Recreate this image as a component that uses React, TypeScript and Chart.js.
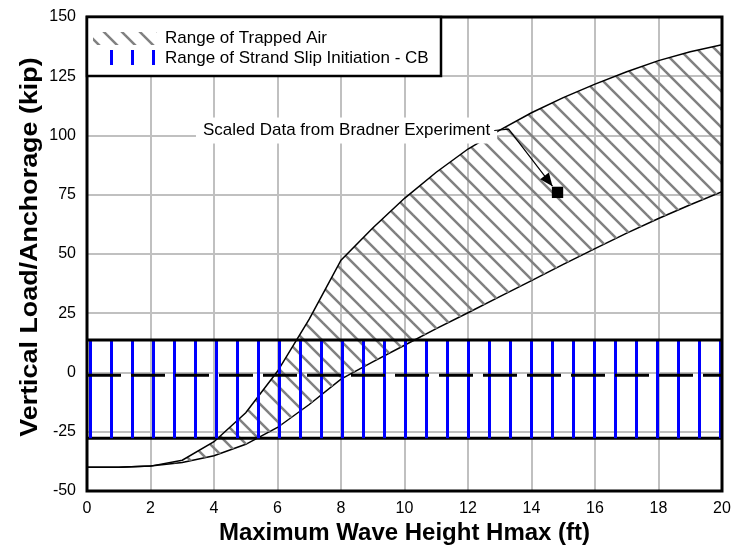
import React, { useEffect, useRef } from "react";
import { Chart, registerables } from "chart.js";

Chart.register(...registerables);

const FONT = "'Liberation Sans', Arial, Helvetica, sans-serif";

// Maximum wave height Hmax (ft)
const waveHeights = [0, 1, 2, 3, 4, 5, 6, 7, 8, 9, 10, 11, 12, 13, 14, 15, 16, 17, 18, 19, 20];
// Range of trapped air: upper and lower bounds (kip)
const trappedAirUpper = [-40, -40, -39.5, -37, -29.2, -17, 0.5, 22.5, 47.4, 61, 73.5, 84.5, 94.3, 102.3, 109.6, 116, 121.7, 126.9, 131.6, 135.3, 138.3];
const trappedAirLower = [-40, -40, -39.5, -38, -35.1, -30.3, -23.2, -13.5, -2.8, 4.5, 11.5, 18.5, 25.2, 32, 38.8, 45.6, 52.3, 58.8, 65, 70.8, 76.3];

// Range of strand slip initiation (kip), spanning the whole wave height range
const bandX = [0, 20];
const bandTop = [13.7, 13.7];
const bandBottom = [-27.7, -27.7];

// Dashed reference line
const referenceY = [-1.2, -1.2];

// Scaled data point from the Bradner experiment
const bradnerX = [14.82];
const bradnerY = [76];

// Axis ticks
const xTicks = [0, 2, 4, 6, 8, 10, 12, 14, 16, 18, 20];
const yTicks = [-50, -25, 0, 25, 50, 75, 100, 125, 150];

const AIR_LABEL = "Range of Trapped Air";
const BAND_LABEL = "Range of Strand Slip Initiation - CB";
const X_TITLE = "Maximum Wave Height Hmax (ft)";
const Y_TITLE = "Vertical Load/Anchorage (kip)";
const NOTE_TEXT = "Scaled Data from Bradner Experiment";
// Note anchor points in data units: text end, leader elbow, arrow tip
const NOTE_END = [12.7, 102.1];
const NOTE_ELBOW = [13.28, 102.7];
const NOTE_TIP = [14.66, 78.6];

const pts = (xs: number[], ys: number[]) => xs.map((x, i) => ({ x, y: ys[i] }));

function diagonalHatch(): CanvasPattern {
  const c = document.createElement("canvas");
  c.width = 18;
  c.height = 18;
  const g = c.getContext("2d")!;
  g.strokeStyle = "#808080";
  g.lineWidth = 2.5;
  for (const k of [-1, 0, 1]) {
    g.beginPath();
    g.moveTo(k * 18 - 3, -3);
    g.lineTo(k * 18 + 21, 21);
    g.stroke();
  }
  return g.createPattern(c, "repeat")!;
}

function verticalHatch(): CanvasPattern {
  const c = document.createElement("canvas");
  c.width = 21;
  c.height = 21;
  const g = c.getContext("2d")!;
  g.fillStyle = "#0000ff";
  g.fillRect(5, 0, 3, 21);
  return g.createPattern(c, "repeat")!;
}

export default function App() {
  const canvasRef = useRef<HTMLCanvasElement | null>(null);

  useEffect(() => {
    const canvas = canvasRef.current;
    if (!canvas) return;
    const grayHatch = diagonalHatch();
    const blueHatch = verticalHatch();

    const notePlugin = {
      id: "bradnerNote",
      afterDatasetsDraw(chart: any) {
        const { ctx } = chart;
        const sx = chart.scales.x;
        const sy = chart.scales.y;
        const tx = sx.getPixelForValue(NOTE_END[0]);
        const ty = sy.getPixelForValue(NOTE_END[1]);
        ctx.save();
        ctx.font = `17px ${FONT}`;
        const w = ctx.measureText(NOTE_TEXT).width;
        ctx.fillStyle = "#ffffff";
        ctx.fillRect(tx - w - 7, ty - 13, w + 14, 26);
        ctx.fillStyle = "#000000";
        ctx.textAlign = "right";
        ctx.textBaseline = "middle";
        ctx.fillText(NOTE_TEXT, tx, ty);

        const ex = sx.getPixelForValue(NOTE_ELBOW[0]);
        const ey = sy.getPixelForValue(NOTE_ELBOW[1]);
        const ax = sx.getPixelForValue(NOTE_TIP[0]);
        const ay = sy.getPixelForValue(NOTE_TIP[1]);
        ctx.strokeStyle = "#000000";
        ctx.lineWidth = 1.2;
        ctx.beginPath();
        ctx.moveTo(tx + 4, ty);
        ctx.lineTo(ex, ey);
        ctx.lineTo(ax, ay);
        ctx.stroke();
        const ang = Math.atan2(ay - ey, ax - ex);
        const L = 13;
        const hw = 5.5;
        const bx = ax - L * Math.cos(ang);
        const by = ay - L * Math.sin(ang);
        ctx.beginPath();
        ctx.moveTo(ax, ay);
        ctx.lineTo(bx + hw * Math.sin(ang), by - hw * Math.cos(ang));
        ctx.lineTo(bx - hw * Math.sin(ang), by + hw * Math.cos(ang));
        ctx.closePath();
        ctx.fillStyle = "#000000";
        ctx.fill();
        ctx.restore();
      },
    };

    const framePlugin = {
      id: "frameAndLegend",
      afterDraw(chart: any) {
        const { ctx, chartArea: a } = chart;
        ctx.save();
        ctx.strokeStyle = "#000000";
        ctx.lineWidth = 3;
        ctx.strokeRect(a.left, a.top, a.right - a.left, a.bottom - a.top);

        // legend box in the upper-left corner of the plot
        const lx = a.left;
        const ly = a.top;
        const lw = 354;
        const lh = 59;
        ctx.fillStyle = "#ffffff";
        ctx.fillRect(lx, ly, lw, lh);
        ctx.lineWidth = 2.5;
        ctx.strokeRect(lx, ly, lw, lh);

        ctx.fillStyle = grayHatch;
        ctx.fillRect(lx + 6, ly + 15, 64, 13);
        ctx.fillStyle = blueHatch;
        ctx.fillRect(lx + 6, ly + 33, 64, 15);

        ctx.fillStyle = "#000000";
        ctx.font = `17px ${FONT}`;
        ctx.textAlign = "left";
        ctx.textBaseline = "middle";
        ctx.fillText(AIR_LABEL, lx + 78, ly + 21.5);
        ctx.fillText(BAND_LABEL, lx + 78, ly + 41.5);

        // vertical axis title, slightly stretched along its length
        ctx.translate(30, (a.top + a.bottom) / 2 - 7);
        ctx.rotate(-Math.PI / 2);
        ctx.scale(1.12, 1);
        ctx.font = `bold 24px ${FONT}`;
        ctx.textAlign = "center";
        ctx.fillText(Y_TITLE, 0, 0);
        ctx.restore();
      },
    };

    const chart = new Chart(canvas, {
      type: "line",
      data: {
        datasets: [
          {
            label: BAND_LABEL,
            data: pts(bandX, bandTop),
            borderColor: "#000000",
            borderWidth: 3,
            pointRadius: 0,
            fill: { target: 1 },
            backgroundColor: blueHatch as any,
            order: 3,
          },
          {
            label: "band-bottom",
            data: pts(bandX, bandBottom),
            borderColor: "#000000",
            borderWidth: 3,
            pointRadius: 0,
            fill: false,
            order: 3,
          },
          {
            label: AIR_LABEL,
            data: pts(waveHeights, trappedAirUpper),
            borderColor: "#000000",
            borderWidth: 1.5,
            pointRadius: 0,
            fill: { target: 3 },
            backgroundColor: grayHatch as any,
            order: 4,
          },
          {
            label: "air-lower",
            data: pts(waveHeights, trappedAirLower),
            borderColor: "#000000",
            borderWidth: 1.5,
            pointRadius: 0,
            fill: false,
            order: 4,
          },
          {
            label: "reference",
            data: pts(bandX, referenceY),
            borderColor: "#000000",
            borderWidth: 3,
            borderDash: [34, 10],
            pointRadius: 0,
            fill: false,
            order: 2,
          },
          {
            label: "Bradner",
            data: pts(bradnerX, bradnerY),
            showLine: false,
            pointStyle: "rect",
            pointRadius: 8,
            pointBorderWidth: 0,
            pointBackgroundColor: "#000000",
            borderColor: "#000000",
            order: 1,
          },
        ],
      },
      options: {
        responsive: false,
        animation: false,
        events: [],
        layout: { padding: { left: 0, right: 11, top: 17, bottom: 0 } },
        plugins: {
          legend: { display: false },
          tooltip: { enabled: false },
        },
        scales: {
          x: {
            type: "linear",
            min: 0,
            max: 20,
            afterFit: (s: any) => {
              s.height = 59;
              s.paddingLeft = 0;
              s.paddingRight = 0;
            },
            afterBuildTicks: (s: any) => {
              s.ticks = xTicks.map((v) => ({ value: v }));
            },
            ticks: {
              color: "#000000",
              font: { family: FONT, size: 16 },
              padding: 8,
              maxRotation: 0,
              autoSkip: false,
            },
            grid: { color: "#c0c0c0", lineWidth: 2, drawTicks: false },
            border: { display: false },
            title: {
              display: true,
              text: X_TITLE,
              color: "#000000",
              font: { family: FONT, size: 24, weight: "bold" },
              padding: { top: 0, bottom: 2 },
            },
          },
          y: {
            type: "linear",
            min: -50,
            max: 150,
            afterFit: (s: any) => {
              s.width = 87;
              s.paddingTop = 0;
              s.paddingBottom = 0;
            },
            afterBuildTicks: (s: any) => {
              s.ticks = yTicks.map((v) => ({ value: v }));
            },
            ticks: {
              color: "#000000",
              font: { family: FONT, size: 16 },
              padding: 11,
              autoSkip: false,
            },
            grid: { color: "#c0c0c0", lineWidth: 2, drawTicks: false },
            border: { display: false },
            title: { display: false },
          },
        },
      },
      plugins: [notePlugin, framePlugin],
    });

    return () => chart.destroy();
  }, []);

  return (
    <div style={{ position: "fixed", left: 0, top: 0, width: 733, height: 550, background: "#ffffff" }}>
      <canvas ref={canvasRef} width={733} height={550} />
    </div>
  );
}
